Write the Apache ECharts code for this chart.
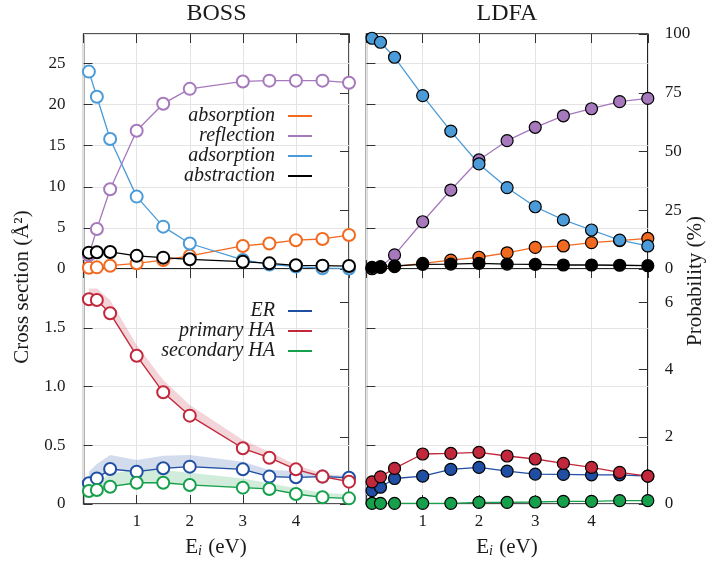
<!DOCTYPE html>
<html>
<head>
<meta charset="utf-8">
<script src="https://cdn.jsdelivr.net/npm/echarts@6/dist/echarts.min.js"></script>
<style>
  html, body { margin: 0; padding: 0; background: #fff; }
  #chart { width: 706px; height: 563px; }
</style>
</head>
<body>
<div id="chart"></div>
<script>
// Incidence energies (eV)
const energyBOSS = [0.1, 0.25, 0.5, 1, 1.5, 2, 3, 3.5, 4, 4.5, 5];
const energyLDFA = [0.1, 0.25, 0.5, 1, 1.5, 2, 2.5, 3, 3.5, 4, 4.5, 5];

// BOSS cross sections (Å^2)
const bossAbsorption  = [0.16, 0.2, 0.4, 0.69, 1.09, 1.6, 2.8, 3.1, 3.5, 3.65, 4.13];
const bossReflection  = [1.7, 4.86, 9.7, 16.8, 20.1, 21.9, 22.8, 22.9, 22.9, 22.9, 22.65];
const bossAdsorption  = [24.0, 20.95, 15.8, 8.8, 5.15, 3.1, 1.1, 0.55, 0.3, 0.1, 0.05];
const bossAbstraction = [1.99, 2.03, 2.07, 1.6, 1.38, 1.18, 0.89, 0.69, 0.45, 0.41, 0.36];

// LDFA probabilities (%)
const ldfaAbsorption  = [0.3, 0.7, 1.0, 2.4, 3.8, 5.0, 6.9, 9.2, 9.8, 11.2, 12.1, 13.0];
const ldfaReflection  = [0.1, 0.8, 6.0, 20.1, 33.6, 46.4, 54.6, 60.3, 65.2, 68.2, 71.2, 72.6];
const ldfaAdsorption  = [98.2, 96.5, 90.1, 73.8, 58.7, 44.7, 34.6, 26.5, 20.9, 16.6, 12.3, 9.8];
const ldfaAbstraction = [0.7, 1.0, 1.3, 2.0, 2.1, 2.4, 2.1, 2.0, 1.7, 1.7, 1.6, 1.4];

// BOSS abstraction channels (Å^2) with uncertainty ranges
const bossER        = [0.176, 0.218, 0.298, 0.275, 0.304, 0.318, 0.295, 0.233, 0.227, 0.233, 0.224];
const bossERHigh    = [0.275, 0.34, 0.417, 0.374, 0.411, 0.417, 0.36, 0.289, 0.28, 0.255, 0.238];
const bossERLow     = [0.17, 0.21, 0.29, 0.27, 0.3, 0.31, 0.29, 0.228, 0.222, 0.228, 0.218];
const bossPHA       = [1.742, 1.736, 1.623, 1.262, 0.951, 0.752, 0.474, 0.394, 0.295, 0.233, 0.19];
const bossPHAHigh   = [1.835, 1.835, 1.736, 1.353, 1.055, 0.843, 0.545, 0.445, 0.332, 0.26, 0.21];
const bossPHALow    = [1.73, 1.725, 1.61, 1.25, 0.94, 0.742, 0.466, 0.386, 0.288, 0.226, 0.184];
const bossSHA       = [0.111, 0.119, 0.147, 0.181, 0.181, 0.162, 0.139, 0.128, 0.085, 0.057, 0.048];
const bossSHAHigh   = [0.162, 0.19, 0.255, 0.295, 0.289, 0.267, 0.218, 0.176, 0.133, 0.096, 0.082];
const bossSHALow    = [0.105, 0.113, 0.141, 0.175, 0.175, 0.156, 0.133, 0.122, 0.08, 0.052, 0.043];

// LDFA abstraction channels (%)
const ldfaER  = [0.40, 0.50, 0.76, 0.83, 1.03, 1.09, 0.98, 0.89, 0.88, 0.87, 0.87, 0.83];
const ldfaPHA = [0.66, 0.81, 1.06, 1.49, 1.51, 1.54, 1.43, 1.34, 1.21, 1.09, 0.94, 0.83];
const ldfaSHA = [0.02, 0.02, 0.02, 0.02, 0.02, 0.05, 0.05, 0.06, 0.08, 0.08, 0.1, 0.1];

const outcomeNames = ['absorption', 'reflection', 'adsorption', 'abstraction'];
const channelNames = ['ER', 'primary HA', 'secondary HA'];
const xTicks = [1, 2, 3, 4];

const C = {
  absorption: '#f26a1f', reflection: '#a678bc', adsorption: '#4a9bd8', abstraction: '#000000',
  ER: '#1f4ea3', 'primary HA': '#c2283b', 'secondary HA': '#17a04c'
};
const BAND = { ER: 'rgba(31,78,163,0.2)', 'primary HA': 'rgba(194,40,59,0.2)', 'secondary HA': 'rgba(23,160,76,0.2)' };

const FONT = '"Liberation Serif", "DejaVu Serif", serif';
const INK = '#1a1a1a';

// Panel geometry
const colL = { left: 83.6, width: 265.4 };
const colR = { left: 366.4, width: 281.4 };
const rowT = { top: 34, height: 235 };
const rowB = { top: 269, height: 235 };
const grids = [
  Object.assign({}, colL, rowT), Object.assign({}, colR, rowT),
  Object.assign({}, colL, rowB), Object.assign({}, colR, rowB)
].map(g => Object.assign(g, { show: true, borderColor: INK, borderWidth: 1.5, backgroundColor: 'transparent' }));

const tick = () => ({ show: true, inside: true, length: 9, lineStyle: { color: '#333', width: 1 } });
const noLine = () => ({ show: false, onZero: false });
const labelFont = () => ({ fontFamily: FONT, fontSize: 17, color: INK });

const xAxes = [];
for (let g = 0; g < 4; g++) {
  xAxes.push({
    type: 'value', gridIndex: g, min: 0, max: 5, interval: 1, position: 'bottom',
    axisLine: noLine(), axisTick: tick(),
    splitLine: { show: true, lineStyle: { color: '#e4e4e4', width: 1 } },
    axisLabel: Object.assign({
      show: g >= 2, margin: 9,
      formatter: v => (xTicks.indexOf(v) >= 0 ? String(v) : '')
    }, labelFont())
  });
}
for (let g = 0; g < 4; g++) {
  xAxes.push({
    type: 'value', gridIndex: g, min: 0, max: 5, interval: 1, position: 'top',
    axisLine: noLine(), axisTick: tick(), splitLine: { show: false }, axisLabel: { show: false }
  });
}

const leftMaxTop = 100 / 3.5, leftMaxBot = 2;
const rightMaxTop = 100, rightMaxBot = 7;
const fmtBot = v => (v === 0 ? '0' : v.toFixed(1));

const yAxes = [];
// left scales (cross section) for every panel; gridlines come from these
[[leftMaxTop, 5, v => String(v)], [leftMaxTop, 5, v => String(v)], [leftMaxBot, 0.5, fmtBot], [leftMaxBot, 0.5, fmtBot]]
  .forEach(([mx, iv, fmt], g) => {
    yAxes.push({
      type: 'value', gridIndex: g, min: 0, max: mx, interval: iv, position: 'left',
      axisLine: noLine(), axisTick: tick(),
      splitLine: { show: true, lineStyle: { color: '#e4e4e4', width: 1 } },
      axisLabel: Object.assign({ show: g % 2 === 0, margin: 18, showMaxLabel: false, formatter: fmt }, labelFont())
    });
  });
// right scales (probability) for every panel
[[rightMaxTop, 25, true], [rightMaxTop, 25, true], [rightMaxBot, 2, false], [rightMaxBot, 2, false]]
  .forEach(([mx, iv, showMax], g) => {
    yAxes.push({
      type: 'value', gridIndex: g, min: 0, max: mx, interval: iv, position: 'right',
      axisLine: noLine(), axisTick: tick(), splitLine: { show: false },
      axisLabel: Object.assign({
        show: g % 2 === 1, margin: 17, showMaxLabel: showMax,
        formatter: v => (v === mx && !showMax ? '' : String(v))
      }, labelFont())
    });
  });

function hollowLine(name, g, xs, ys) {
  return {
    type: 'line', name, xAxisIndex: g, yAxisIndex: g, z: 3,
    data: xs.map((x, i) => [x, ys[i]]),
    symbol: 'emptyCircle', symbolSize: 12,
    lineStyle: { color: C[name], width: 1.3 },
    itemStyle: { color: C[name], borderColor: C[name], borderWidth: 1.5 },
    emphasis: { disabled: true }, animation: false
  };
}
function filledLine(name, g, xs, ys) {
  return {
    type: 'line', name, xAxisIndex: g, yAxisIndex: 4 + g, z: 3,
    data: xs.map((x, i) => [x, ys[i]]),
    symbol: 'circle', symbolSize: 12,
    lineStyle: { color: C[name], width: 1.3 },
    itemStyle: { color: C[name], borderColor: '#000', borderWidth: 1.2 },
    emphasis: { disabled: true }, animation: false
  };
}
// shaded range drawn as one polygon through the axis scales
function band(name, g, xs, lo, hi) {
  return {
    type: 'custom', name: name + ' range', xAxisIndex: g, yAxisIndex: g, z: 2, silent: true,
    animation: false, clip: true,
    data: xs.map((x, i) => [x, lo[i], hi[i]]),
    encode: { x: 0, y: [1, 2] },
    renderItem(params, api) {
      if (params.dataIndex !== 0) return null;
      const top = xs.map((x, i) => api.coord([x, hi[i]]));
      const bot = xs.map((x, i) => api.coord([x, lo[i]])).reverse();
      return { type: 'polygon', shape: { points: top.concat(bot) }, style: { fill: BAND[name] } };
    }
  };
}

const series = [
  hollowLine('absorption', 0, energyBOSS, bossAbsorption),
  hollowLine('reflection', 0, energyBOSS, bossReflection),
  hollowLine('adsorption', 0, energyBOSS, bossAdsorption),
  hollowLine('abstraction', 0, energyBOSS, bossAbstraction),
  filledLine('absorption', 1, energyLDFA, ldfaAbsorption),
  filledLine('reflection', 1, energyLDFA, ldfaReflection),
  filledLine('adsorption', 1, energyLDFA, ldfaAdsorption),
  filledLine('abstraction', 1, energyLDFA, ldfaAbstraction),
  band('ER', 2, energyBOSS, bossERLow, bossERHigh),
  band('primary HA', 2, energyBOSS, bossPHALow, bossPHAHigh),
  band('secondary HA', 2, energyBOSS, bossSHALow, bossSHAHigh),
  hollowLine('ER', 2, energyBOSS, bossER),
  hollowLine('primary HA', 2, energyBOSS, bossPHA),
  hollowLine('secondary HA', 2, energyBOSS, bossSHA),
  filledLine('ER', 3, energyLDFA, ldfaER),
  filledLine('primary HA', 3, energyLDFA, ldfaPHA),
  filledLine('secondary HA', 3, energyLDFA, ldfaSHA)
];

function legend(names, top) {
  return {
    orient: 'vertical', align: 'right', right: 389, top,
    itemWidth: 24, itemHeight: 2, itemGap: 0, icon: 'rect', selectedMode: false,
    data: names.map(n => ({ name: n, icon: 'rect', itemStyle: { color: C[n], borderWidth: 0 } })),
    textStyle: { fontFamily: FONT, fontStyle: 'italic', fontSize: 20, color: INK, lineHeight: 18.5, padding: [0, 8, 0, 0] }
  };
}

const eLabel = x => ({
  type: 'text', x, y: 547, style: {
    text: '{m|E}{s|i}{m| (eV)}', textAlign: 'center', textVerticalAlign: 'middle',
    rich: {
      m: { font: '21px ' + FONT, fill: INK, lineHeight: 24 },
      s: { font: 'italic 14px ' + FONT, fill: INK, lineHeight: 24, padding: [9, 1, 0, 0] }
    }
  }
});

const chart = echarts.init(document.getElementById('chart'), null, { renderer: 'canvas' });
chart.setOption({
  backgroundColor: '#fff',
  animation: false,
  grid: grids,
  xAxis: xAxes,
  yAxis: yAxes,
  legend: [legend(outcomeNames, 101), legend(channelNames, 296)],
  series,
  graphic: [
    { type: 'text', x: 216.5, y: 14, style: { text: 'BOSS', font: '24px ' + FONT, fill: INK, textAlign: 'center', textVerticalAlign: 'middle' } },
    { type: 'text', x: 507, y: 14, style: { text: 'LDFA', font: '24px ' + FONT, fill: INK, textAlign: 'center', textVerticalAlign: 'middle' } },
    { type: 'text', x: 22, y: 287, rotation: Math.PI / 2, style: { text: 'Cross section (Å²)', font: '21px ' + FONT, fill: INK, textAlign: 'center', textVerticalAlign: 'middle' } },
    { type: 'text', x: 695, y: 281, rotation: Math.PI / 2, style: { text: 'Probability (%)', font: '21px ' + FONT, fill: INK, textAlign: 'center', textVerticalAlign: 'middle' } },
    eLabel(216),
    eLabel(507)
  ]
});
</script>
</body>
</html>
